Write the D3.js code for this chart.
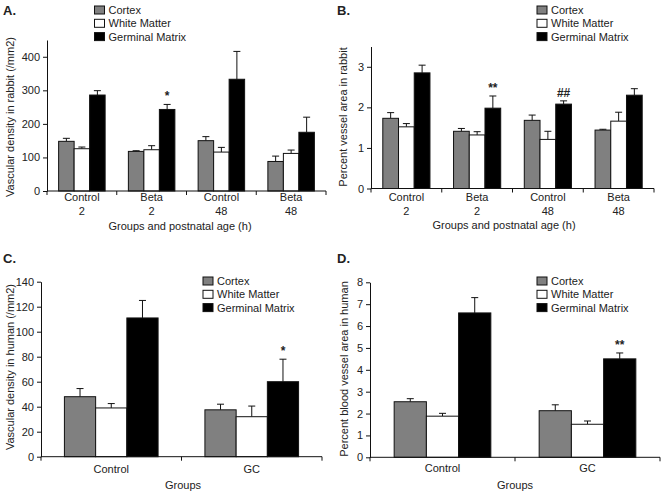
<!DOCTYPE html>
<html>
<head>
<meta charset="utf-8">
<script src="https://cdn.jsdelivr.net/npm/d3@7"></script>
<style>
  body { margin: 0; background: #fff; }
  svg text { font-family: "Liberation Sans", Arial, sans-serif; fill: #222; }
</style>
</head>
<body>
<div id="visContainer"></div>
<script>
// tissues shown in every panel
const tissues = ["Cortex", "White Matter", "Germinal Matrix"];
const tissueColors = ["#808080", "#ffffff", "#000000"];

// rabbit groups (name + postnatal age in h), human groups
const rabbitGroups = ["Control", "Beta", "Control", "Beta"];
const rabbitAges = ["2", "2", "48", "48"];
const humanGroups = ["Control", "GC"];

// A. vascular density in rabbit (/mm2): mean and SE, one row per tissue
const rabbitDensity = [[148, 118, 150, 88], [126, 123, 116, 112], [286, 243, 333, 175]];
const rabbitDensityErr = [[9, 2, 12, 16], [5, 12, 14, 10], [13, 15, 83, 45]];
const rabbitDensityTicks = [0, 100, 200, 300, 400];

// B. percent vessel area in rabbit
const rabbitArea = [[1.73, 1.41, 1.68, 1.44], [1.52, 1.32, 1.21, 1.66], [2.85, 1.98, 2.08, 2.30]];
const rabbitAreaErr = [[0.14, 0.07, 0.13, 0.02], [0.08, 0.08, 0.20, 0.22], [0.19, 0.30, 0.08, 0.16]];
const rabbitAreaTicks = [0, 1, 2, 3];

// C. vascular density in human (/mm2)
const humanDensity = [[48, 37.5], [39, 32], [111, 60]];
const humanDensityErr = [[6.5, 4.5], [3.5, 8.5], [14, 18]];
const humanDensityTicks = [0, 20, 40, 60, 80, 100, 120, 140];

// D. percent blood vessel area in human
const humanArea = [[2.54, 2.13], [1.88, 1.51], [6.6, 4.5]];
const humanAreaErr = [[0.14, 0.27], [0.13, 0.15], [0.7, 0.27]];
const humanAreaTicks = [0, 1, 2, 3, 4, 5, 6, 7, 8];

// significance marks: group index, tissue index, text
const rabbitDensityMarks = [{ group: 1, tissue: 2, text: "*" }];
const rabbitAreaMarks = [{ group: 1, tissue: 2, text: "**" }, { group: 2, tissue: 2, text: "##" }];
const humanDensityMarks = [{ group: 1, tissue: 2, text: "*" }];
const humanAreaMarks = [{ group: 1, tissue: 2, text: "**" }];

const width = 662;
const height = 495;

const svg = d3
  .select("#visContainer")
  .append("svg")
  .attr("width", width)
  .attr("height", height);

function drawPanel(p) {
  const g = svg.append("g");

  const x = d3.scaleBand()
    .domain(d3.range(p.groups.length))
    .range([p.x0, p.x1]);

  const xInner = d3.scaleBand()
    .domain(d3.range(tissues.length))
    .range([0, x.bandwidth()])
    .paddingOuter(0.75);

  const y = d3.scaleLinear()
    .domain([0, p.yMax])
    .range([p.yBase, p.yTop]);

  const rows = [];
  p.means.forEach((arr, t) => arr.forEach((v, i) => rows.push({ t, i, v, e: p.errs[t][i] })));

  const cx = (d) => x(d.i) + xInner(d.t) + xInner.bandwidth() / 2;

  // error bars (upper only)
  g.selectAll("line.err")
    .data(rows)
    .join("line")
    .attr("class", "err")
    .attr("x1", cx).attr("x2", cx)
    .attr("y1", (d) => y(d.v))
    .attr("y2", (d) => y(d.v + d.e))
    .attr("stroke", "#111");

  g.selectAll("line.cap")
    .data(rows)
    .join("line")
    .attr("class", "cap")
    .attr("x1", (d) => cx(d) - 3.5).attr("x2", (d) => cx(d) + 3.5)
    .attr("y1", (d) => y(d.v + d.e))
    .attr("y2", (d) => y(d.v + d.e))
    .attr("stroke", "#111");

  g.selectAll("rect.bar")
    .data(rows)
    .join("rect")
    .attr("class", "bar")
    .attr("x", (d) => x(d.i) + xInner(d.t))
    .attr("y", (d) => y(d.v))
    .attr("width", xInner.bandwidth())
    .attr("height", (d) => y(0) - y(d.v))
    .attr("fill", (d) => tissueColors[d.t])
    .attr("stroke", "#111")
    .attr("stroke-width", 1);

  // marks above error bars
  g.selectAll("text.mark")
    .data(p.marks)
    .join("text")
    .attr("class", "mark")
    .attr("x", (d) => x(d.group) + xInner(d.tissue) + xInner.bandwidth() / 2)
    .attr("y", (d) => y(p.means[d.tissue][d.group] + p.errs[d.tissue][d.group]) - 4)
    .attr("text-anchor", "middle")
    .style("font-size", "12px")
    .style("font-weight", "bold")
    .text((d) => d.text);

  // y axis
  g.append("g")
    .attr("transform", `translate(${p.x0},0)`)
    .call(d3.axisLeft(y).tickValues(p.yTicks).tickFormat(d3.format("~g"))
      .tickSize(4).tickSizeOuter(0).tickPadding(3))
    .call((a) => a.selectAll("path,line").attr("stroke", "#111"))
    .call((a) => a.selectAll("text")
      .attr("fill", "#222")
      .style("font-family", '"Liberation Sans", Arial, sans-serif')
      .style("font-size", "11px"));

  // x axis with ticks between groups
  g.append("line")
    .attr("x1", p.x0).attr("x2", p.x1)
    .attr("y1", p.yBase).attr("y2", p.yBase)
    .attr("stroke", "#111");

  const edges = d3.range(p.groups.length + 1).map((k) => (k === p.groups.length ? p.x1 : x(k)));
  g.selectAll("line.xtick")
    .data(edges)
    .join("line")
    .attr("class", "xtick")
    .attr("x1", (d) => d).attr("x2", (d) => d)
    .attr("y1", p.yBase).attr("y2", p.yBase + 4)
    .attr("stroke", "#111");

  g.selectAll("text.xlab")
    .data(p.groups)
    .join("text")
    .attr("class", "xlab")
    .attr("x", (d, i) => x(i) + x.bandwidth() / 2)
    .attr("y", p.yBase + p.labelDy)
    .attr("text-anchor", "middle")
    .style("font-size", "11px")
    .text((d) => d);

  if (p.ages) {
    g.selectAll("text.xage")
      .data(p.ages)
      .join("text")
      .attr("class", "xage")
      .attr("x", (d, i) => x(i) + x.bandwidth() / 2)
      .attr("y", p.yBase + p.labelDy + 13.5)
      .attr("text-anchor", "middle")
      .style("font-size", "11px")
      .text((d) => d);
  }

  // axis titles
  g.append("text")
    .attr("x", p.xTitleX)
    .attr("y", p.xTitleY)
    .attr("text-anchor", "middle")
    .style("font-size", "11px")
    .text(p.xTitle);

  g.append("text")
    .attr("transform", `translate(${p.yTitleX},${p.yTitleY}) rotate(-90)`)
    .attr("text-anchor", "middle")
    .style("font-size", "11px")
    .text(p.yTitle);

  // panel letter
  g.append("text")
    .attr("x", p.letterX)
    .attr("y", p.letterY)
    .style("font-size", "13px")
    .style("font-weight", "bold")
    .text(p.letter);

  // legend
  const leg = g.selectAll("g.leg")
    .data(tissues)
    .join("g")
    .attr("class", "leg")
    .attr("transform", (d, i) => `translate(${p.legX},${p.legY + i * 13.3})`);

  leg.append("rect")
    .attr("x", 0).attr("y", -8)
    .attr("width", 10).attr("height", 8)
    .attr("fill", (d, i) => tissueColors[i])
    .attr("stroke", "#111");

  leg.append("text")
    .attr("x", 14)
    .attr("y", 0)
    .style("font-size", "11px")
    .text((d) => d);
}

drawPanel({
  letter: "A.", letterX: 3, letterY: 15,
  groups: rabbitGroups, ages: rabbitAges,
  means: rabbitDensity, errs: rabbitDensityErr, marks: rabbitDensityMarks,
  yMax: 450, yTicks: rabbitDensityTicks,
  x0: 47, x1: 326, yBase: 191, yTop: 40, labelDy: 10,
  xTitle: "Groups and postnatal age (h)", xTitleX: 180, xTitleY: 230,
  yTitle: "Vascular density in rabbit (/mm2)", yTitleX: 14, yTitleY: 117,
  legX: 94.5, legY: 14
});

drawPanel({
  letter: "B.", letterX: 337, letterY: 15,
  groups: rabbitGroups, ages: rabbitAges,
  means: rabbitArea, errs: rabbitAreaErr, marks: rabbitAreaMarks,
  yMax: 3.5, yTicks: rabbitAreaTicks,
  x0: 371, x1: 654, yBase: 188.5, yTop: 46.5, labelDy: 12.5,
  xTitle: "Groups and postnatal age (h)", xTitleX: 504, xTitleY: 229,
  yTitle: "Percent vessel area in rabbit", yTitleX: 347, yTitleY: 117,
  legX: 537, legY: 14
});

drawPanel({
  letter: "C.", letterX: 3, letterY: 263,
  groups: humanGroups, ages: null,
  means: humanDensity, errs: humanDensityErr, marks: humanDensityMarks,
  yMax: 140, yTicks: humanDensityTicks,
  x0: 41, x1: 322, yBase: 456.7, yTop: 281.7, labelDy: 16,
  xTitle: "Groups", xTitleX: 183, xTitleY: 489,
  yTitle: "Vascular density in human (/mm2)", yTitleX: 14, yTitleY: 367,
  legX: 203, legY: 285
});

drawPanel({
  letter: "D.", letterX: 337, letterY: 263,
  groups: humanGroups, ages: null,
  means: humanArea, errs: humanAreaErr, marks: humanAreaMarks,
  yMax: 8, yTicks: humanAreaTicks,
  x0: 370, x1: 660, yBase: 457.3, yTop: 282.3, labelDy: 15,
  xTitle: "Groups", xTitleX: 515, xTitleY: 489,
  yTitle: "Percent blood vessel area in human", yTitleX: 348, yTitleY: 369,
  legX: 537, legY: 285
});
</script>
</body>
</html>
